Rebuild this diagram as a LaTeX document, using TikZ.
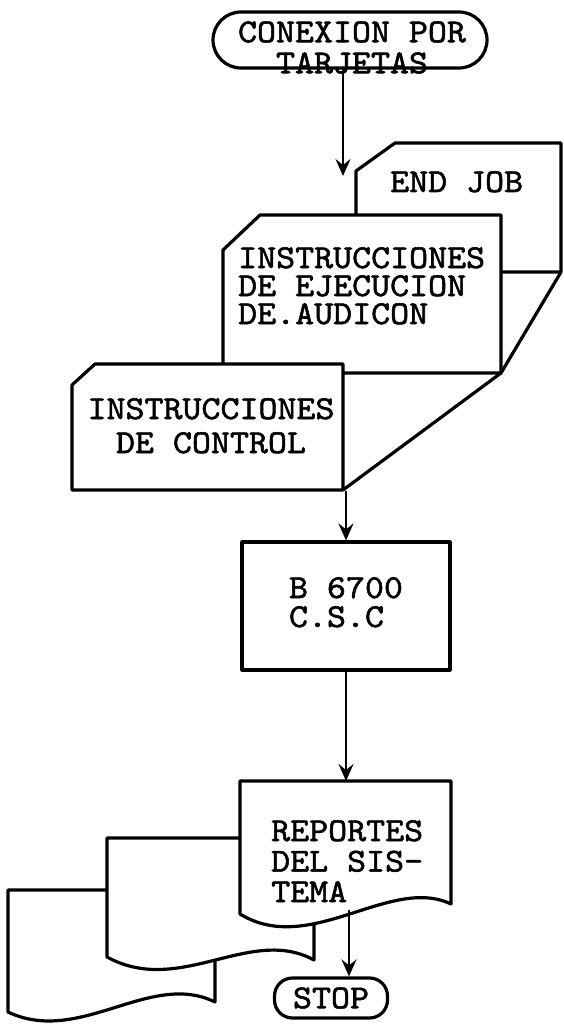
\documentclass[tikz,border=0pt]{standalone}
\usepackage{fontspec}
\newfontfamily\tw{lmmono10-regular.otf}[FakeBold=1.6,FakeStretch=1.08]
\usetikzlibrary{arrows.meta}
\begin{document}
\begin{tikzpicture}[x=1pt,y=-1pt,
  outline/.style={line width=3.2pt, line join=round},
  card/.style={outline, fill=white},
  lbl/.style={font=\tw\fontsize{33.5}{34}\selectfont, inner sep=0pt},
  arr/.style={line width=2.4pt, -{Stealth[length=17pt,width=15pt,inset=6pt]}}]
\useasboundingbox (0,0) rectangle (563,1027);

% start terminal
\draw[outline, rounded corners=28pt] (213,12) rectangle (487,68);
\node[lbl, align=center, font=\tw\fontsize{33.5}{31}\selectfont] (start) at (352,47.5) {CONEXION POR\\TARJETAS};
\coordinate (start-out) at (343,68);

% card deck
\coordinate (deckin) at (343,176);
\draw[card] (356,171) -- (395,143) -- (561,143) -- (561,272) -- (356,272) -- cycle;
\coordinate (endjob-br) at (561,272);
\node[lbl, anchor=base west] (endjob) at (390,192) {END JOB};

\draw[card] (223,250) -- (260,215) -- (501,215) -- (501,373) -- (223,373) -- cycle;
\coordinate (ejec-br) at (501,373);
\node[lbl, align=left, anchor=north west, font=\tw\fontsize{33.5}{28}\selectfont] (ejec) at (238,247) {INSTRUCCIONES\\DE EJECUCION\\DE.AUDICON};

\draw[card] (72,385) -- (95,364) -- (343,364) -- (343,490) -- (72,490) -- cycle;
\coordinate (ctrl-br) at (343,490);
\coordinate (ctrl-out) at (346,491);
\node[lbl, align=center, anchor=north, font=\tw\fontsize{33.5}{34}\selectfont] (ctrl) at (211,398) {INSTRUCCIONES\\DE CONTROL};

\draw[outline] (endjob-br) -- (ejec-br) -- (ctrl-br);

% processor
\node[draw, outline, minimum width=208pt, minimum height=128pt, inner sep=0pt, align=left,
  font=\tw\fontsize{33.5}{29}\selectfont, text depth=8pt] (cpu) at (346,606) {B 6700\\C.S.C};

% documents
\draw[card] (8,1012) -- (8,890) -- (215,890) -- (215,1002)
  .. controls (150,970) and (80,1046) .. (8,1012) -- cycle;
\draw[card] (107,957) -- (107,838) -- (314,838) -- (314,960)
  .. controls (250,925) and (180,997) .. (107,957) -- cycle;
\draw[card] (240,914) -- (240,781) -- (451,781) -- (451,904)
  .. controls (390,875) and (310,957) .. (240,914) -- cycle;
\coordinate (rep-top) at (346,781);
\coordinate (rep-out) at (349,910);
\node[lbl, align=left, anchor=north west, font=\tw\fontsize{33.5}{30.5}\selectfont] (rep) at (271,820) {REPORTES\\DEL SIS-\\TEMA};

% stop terminal
\node[draw, outline, rounded corners=18pt, minimum width=113pt, minimum height=40pt, inner sep=0pt,
  font=\tw\fontsize{33.5}{34}\selectfont] (stop) at (331,998) {STOP};

% connectors
\draw[arr] (start-out) -- (deckin);
\draw[arr] (ctrl-out) -- (cpu.north);
\draw[arr] (cpu.south) -- (rep-top);
\draw[arr] (rep-out) -- (rep-out |- stop.north);
\end{tikzpicture}
\end{document}
